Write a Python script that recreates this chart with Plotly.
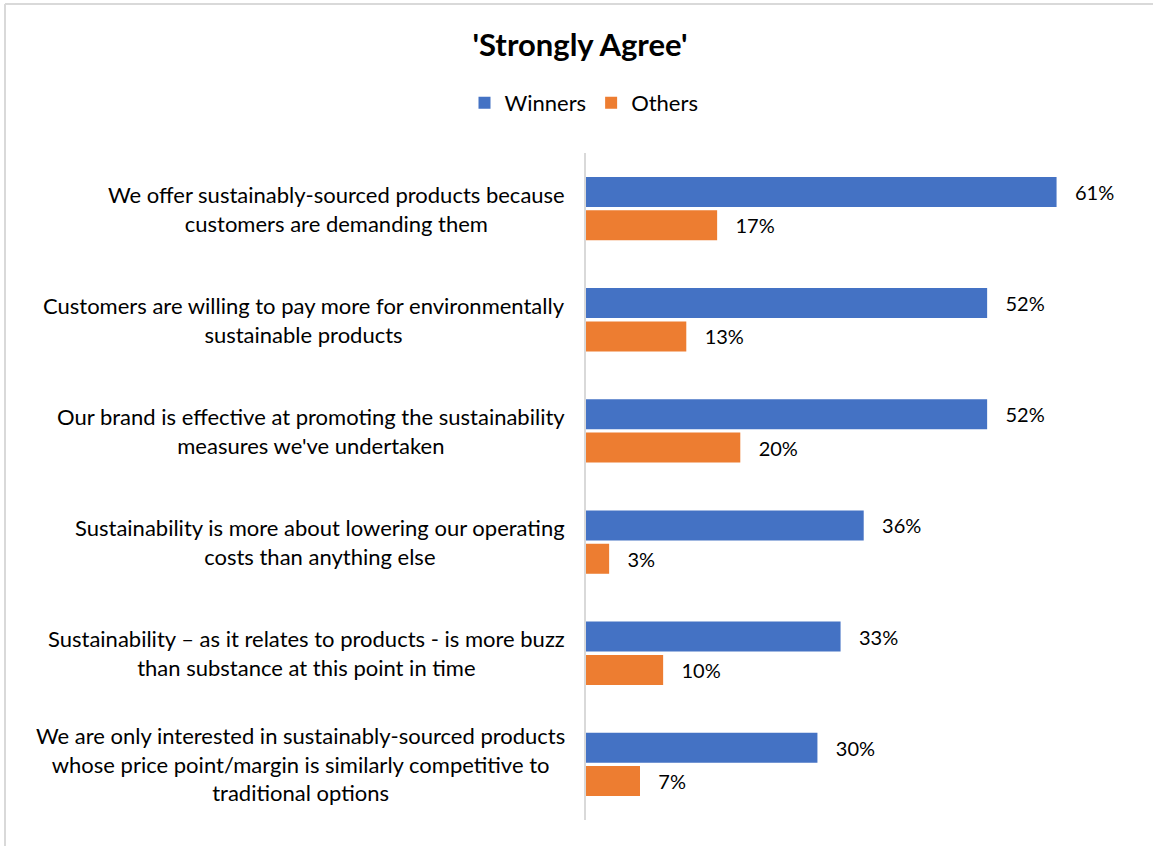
import plotly.graph_objects as go

# Survey statements (top to bottom) and share answering 'Strongly Agree'
statements = [
    "We offer sustainably-sourced products because<br>customers are demanding them",
    "Customers are willing to pay more for environmentally<br>sustainable products",
    "Our brand is effective at promoting the sustainability<br>measures we've undertaken",
    "Sustainability is more about lowering our operating<br>costs than anything else",
    "Sustainability \u2013 as it relates to products - is more buzz<br>than substance at this point in time",
    "We are only interested in sustainably-sourced products<br>whose price point/margin is similarly competitive to<br>traditional options",
]
winners = [61, 52, 52, 36, 33, 30]
others = [17, 13, 20, 3, 10, 7]

series_names = ["Winners", "Others"]
series_colors = ["#4472C4", "#ED7D31"]

FONT = "Lato"
W, H = 1153, 846
M_L, M_R, M_T, M_B = 586, 27, 153, 26

cats = [f"c{i}" for i in range(len(statements))]

fig = go.Figure()
for name, vals, color in zip(series_names, [winners, others], series_colors):
    fig.add_trace(go.Bar(
        name=name,
        y=cats,
        x=vals,
        orientation="h",
        marker=dict(color=color, line=dict(width=0)),
        texttemplate="\u00a0\u00a0\u00a0%{x}%",
        textposition="outside",
        textfont=dict(family=FONT, size=20, color="#000000"),
        cliponaxis=False,
        hoverinfo="skip",
    ))

# Category labels, centred line by line, right-aligned against the axis
annotations = []
for c, s in zip(cats, statements):
    annotations.append(dict(
        x=0, xref="paper", xshift=-19, xanchor="right",
        y=c, yref="y", yanchor="middle",
        text=s, align="center", showarrow=False,
        font=dict(family=FONT, size=22, color="#000000"),
    ))

# Light grey chart-area frame (left and top edges)
pw = W - M_L - M_R
ph = H - M_T - M_B
x_left = (5 - M_L) / pw
y_top = 1 + (M_T - 4) / ph
shapes = [
    dict(type="line", xref="paper", yref="paper", x0=x_left, x1=x_left,
         y0=-(M_B + 5) / ph, y1=y_top, line=dict(color="#D9D9D9", width=2)),
    dict(type="line", xref="paper", yref="paper", x0=x_left, x1=1 + (M_R + 5) / pw,
         y0=y_top, y1=y_top, line=dict(color="#D9D9D9", width=2)),
]

fig.update_layout(
    width=W, height=H,
    margin=dict(l=M_L, r=M_R, t=M_T, b=M_B),
    paper_bgcolor="white", plot_bgcolor="white",
    barmode="group", bargap=0.4, bargroupgap=0.1,
    title=dict(
        text="<b>'Strongly Agree'</b>",
        x=580 / W, xref="container", xanchor="center",
        y=1 - 45 / H, yref="container", yanchor="middle",
        font=dict(family=FONT, size=31, color="#000000"),
    ),
    legend=dict(
        orientation="h",
        x=584 / W, xref="container", xanchor="center",
        y=1 - 103 / H, yref="container", yanchor="middle",
        font=dict(family=FONT, size=22, color="#000000"),
        itemwidth=30, traceorder="normal",
    ),
    xaxis=dict(range=[0, 70], visible=False, showgrid=False, zeroline=False),
    yaxis=dict(
        categoryorder="array", categoryarray=cats, autorange="reversed",
        showticklabels=False, ticks="", showgrid=False, zeroline=False,
        showline=True, linecolor="#D9D9D9", linewidth=2,
    ),
    annotations=annotations,
    shapes=shapes,
    font=dict(family=FONT),
)

fig.write_html("out.html")
